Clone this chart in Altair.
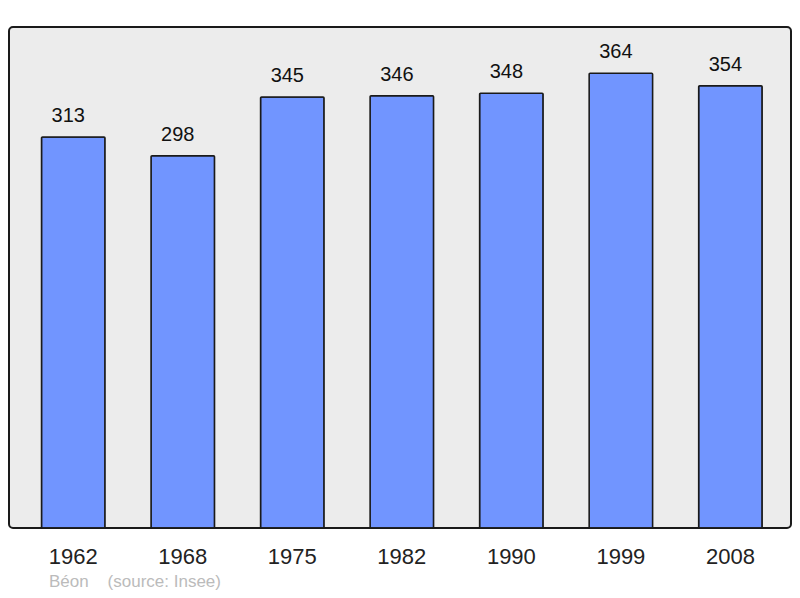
import altair as alt
import pandas as pd

years = ["1962", "1968", "1975", "1982", "1990", "1999", "2008"]
population = [313, 298, 345, 346, 348, 364, 354]

df = pd.DataFrame({"year": years, "pop": population})

FONT = "Liberation Sans"

x = alt.X(
    "year:N",
    sort=years,
    scale=alt.Scale(paddingInner=0.42, paddingOuter=0.28, align=0.53),
    axis=alt.Axis(
        title=None, domain=False, ticks=False, grid=False, labelAngle=0,
        labelFontSize=22, labelFont=FONT, labelColor="#222222", labelPadding=18,
    ),
)
y = alt.Y(
    "pop:Q",
    scale=alt.Scale(domain=[0, 401], nice=False, zero=True),
    axis=None,
)

bars = alt.Chart(df).mark_bar(
    color="#7195ff", stroke="#1a1a1a", strokeWidth=1.5, cornerRadius=1
).encode(x=x, y=y)

labels = alt.Chart(df).mark_text(
    baseline="alphabetic", dy=-15, dx=-5, fontSize=20, font=FONT, color="#111111"
).encode(x=x, y=y, text="pop:Q")

chart = (
    alt.layer(bars, labels)
    .properties(
        width=782,
        height=501,
        padding={"left": 1, "top": 19, "right": 1, "bottom": 62},
        autosize=alt.AutoSizeParams(type="none"),
        background="white",
        title=alt.TitleParams(
            text="Béon\u00a0\u00a0\u00a0\u00a0(source: Insee)",
            orient="bottom", anchor="start", dx=40, offset=7,
            fontSize=17, font=FONT, fontWeight="normal", color="#bbbbbb",
        ),
    )
    .configure_view(fill="#ececec", stroke="#1a1a1a", strokeWidth=2, cornerRadius=4)
)

chart.save("out.html", embed_options={"renderer": "svg", "actions": False})
